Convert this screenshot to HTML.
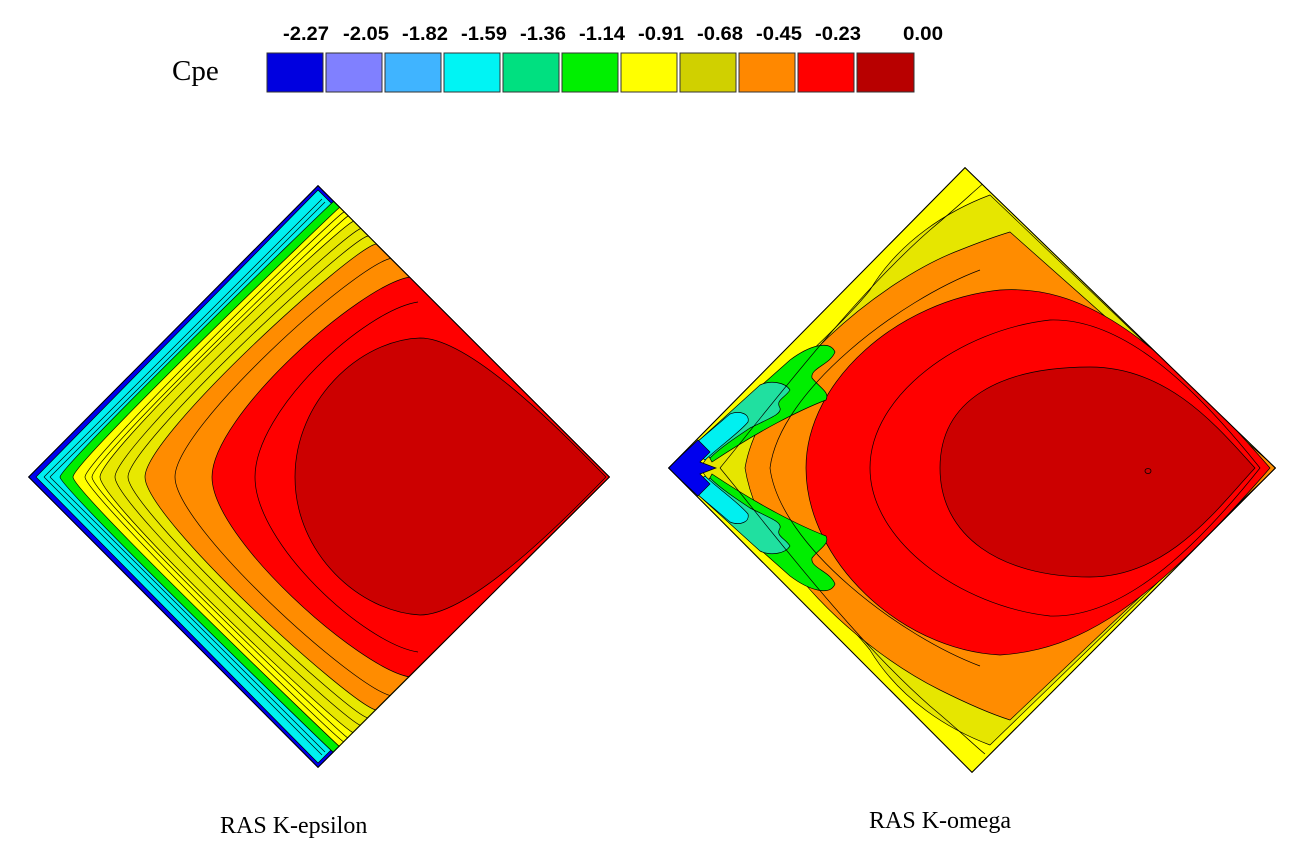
<!DOCTYPE html>
<html><head><meta charset="utf-8"><style>
html,body{margin:0;padding:0;background:#fff;width:1292px;height:868px;overflow:hidden}
svg{display:block}
</style></head><body>
<svg width="1292" height="868" viewBox="0 0 1292 868" xmlns="http://www.w3.org/2000/svg">
<defs>
<clipPath id="cl"><polygon points="318,185 28,477 318,768 610,477"/></clipPath>
<clipPath id="cr"><polygon points="965,167 668,468 972,773 1276,468"/></clipPath>
</defs>
<!-- legend -->
<text x="172" y="80" font-family="Liberation Serif, serif" font-size="29">Cpe</text>
<g stroke="#333" stroke-width="1">
<rect x="267" y="53" width="56" height="39" fill="#0000e0"/>
<rect x="326" y="53" width="56" height="39" fill="#8080ff"/>
<rect x="385" y="53" width="56" height="39" fill="#40b4ff"/>
<rect x="444" y="53" width="56" height="39" fill="#00f4f4"/>
<rect x="503" y="53" width="56" height="39" fill="#00e080"/>
<rect x="562" y="53" width="56" height="39" fill="#00f000"/>
<rect x="621" y="53" width="56" height="39" fill="#ffff00"/>
<rect x="680" y="53" width="56" height="39" fill="#d0d000"/>
<rect x="739" y="53" width="56" height="39" fill="#ff8800"/>
<rect x="798" y="53" width="56" height="39" fill="#ff0000"/>
<rect x="857" y="53" width="57" height="39" fill="#b80000"/>
</g>
<g font-family="Liberation Sans, sans-serif" font-weight="bold" font-size="19" text-anchor="middle">
<text x="306" y="40" textLength="46" lengthAdjust="spacingAndGlyphs">-2.27</text>
<text x="366" y="40" textLength="46" lengthAdjust="spacingAndGlyphs">-2.05</text>
<text x="425" y="40" textLength="46" lengthAdjust="spacingAndGlyphs">-1.82</text>
<text x="484" y="40" textLength="46" lengthAdjust="spacingAndGlyphs">-1.59</text>
<text x="543" y="40" textLength="46" lengthAdjust="spacingAndGlyphs">-1.36</text>
<text x="602" y="40" textLength="46" lengthAdjust="spacingAndGlyphs">-1.14</text>
<text x="661" y="40" textLength="46" lengthAdjust="spacingAndGlyphs">-0.91</text>
<text x="720" y="40" textLength="46" lengthAdjust="spacingAndGlyphs">-0.68</text>
<text x="779" y="40" textLength="46" lengthAdjust="spacingAndGlyphs">-0.45</text>
<text x="838" y="40" textLength="46" lengthAdjust="spacingAndGlyphs">-0.23</text>
<text x="923" y="40" textLength="40" lengthAdjust="spacingAndGlyphs">0.00</text>
</g>
<!-- left diamond -->
<g clip-path="url(#cl)" stroke="#000" stroke-width="0.7">
<polygon points="318,185 28,477 318,768 610,477" fill="#0000ee"/>
<polygon points="318,190 36,477 318,763 605,477" fill="#00f0f0"/>
<path d="M60,477 C60,466 328,206 334,201 L610,477 L334,753 C328,748 60,488 60,477Z" fill="#00ee00"/>
<path d="M73,477 C73,462 334,212 340,207 L610,477 L340,747 C334,742 73,492 73,477Z" fill="#ffff00"/>
<path d="M100,477 C100,452 340,225 354,221 L610,477 L354,733 C340,729 100,502 100,477Z" fill="#e8e800"/>
<path d="M145,477 C145,436 350,250 376,244 L610,477 L376,710 C350,704 145,518 145,477Z" fill="#ff8c00"/>
<path d="M212,477 C212,416 360,285 410,277 L610,477 L410,677 C360,669 212,538 212,477Z" fill="#ff0000"/>
<path d="M295,477 C295,400 360,340 420,338 C470,338 560,430 606,477 C560,524 470,615 420,615 C360,612 295,554 295,477Z" fill="#cc0000"/>
<g fill="none">
<path d="M44,477 L322,199 M44,477 L322,755"/>
<path d="M50,477 L325,202 M50,477 L325,752"/>
<path d="M85,477 C85,460 336,215 344,212 M85,477 C85,494 336,739 344,742"/>
<path d="M92,477 C92,458 340,220 348,216 M92,477 C92,496 340,734 348,738"/>
<path d="M115,477 C115,448 344,232 362,228 M115,477 C115,506 344,722 362,726"/>
<path d="M128,477 C128,445 348,240 368,236 M128,477 C128,509 348,714 368,718"/>
<path d="M175,477 C175,428 355,265 392,258 M175,477 C175,526 355,689 392,696"/>
<path d="M255,477 C255,410 365,310 418,302 M255,477 C255,544 365,644 418,652"/>
</g>
<polygon points="318,185 28,477 318,768 610,477" fill="none" stroke="#000" stroke-width="2"/>
</g>
<!-- right diamond -->
<g clip-path="url(#cr)" stroke="#000" stroke-width="0.7">
<polygon points="965,167 668,468 972,773 1276,468" fill="#ffff00"/>
<path d="M700,468 C730,420 830,340 870,290 C900,240 950,210 990,195 L1276,468 L990,745 C950,730 900,700 870,650 C830,600 730,516 700,468Z" fill="#e6e600"/>
<path d="M745,468 C760,380 880,280 960,250 C985,240 1000,235 1010,232 L1276,468 L1010,720 C985,712 960,700 940,690 C860,650 760,560 745,468Z" fill="#ff8c00"/>
<path d="M806,468 C806,380 900,300 1000,290 C1080,285 1150,330 1270,468 C1150,606 1080,650 1000,655 C900,650 806,560 806,468Z" fill="#ff0000"/>
<path d="M940,468 C940,400 1000,367 1090,367 C1170,367 1220,430 1255,468 C1220,505 1170,577 1090,577 C1000,577 940,536 940,468Z" fill="#cc0000"/>
<!-- fingers upper -->
<path d="M700,440 L790,360 C810,345 830,340 835,352 C830,365 810,368 812,378 C820,388 830,392 826,400 C800,410 760,430 712,462Z" fill="#00ee00"/>
<path d="M695,444 L760,385 C770,380 785,382 790,390 C785,398 775,400 780,408 C782,414 770,418 750,428 C735,438 720,448 710,458Z" fill="#20e0a0"/>
<path d="M690,448 L730,414 C740,410 750,414 748,422 C740,432 720,446 705,460Z" fill="#00f0f0"/>
<!-- fingers lower -->
<path d="M700,496 L790,576 C810,591 830,596 835,584 C830,571 810,568 812,558 C820,548 830,544 826,536 C800,526 760,506 712,474Z" fill="#00ee00"/>
<path d="M695,492 L760,551 C770,556 785,554 790,546 C785,538 775,536 780,528 C782,522 770,518 750,508 C735,498 720,488 710,478Z" fill="#20e0a0"/>
<path d="M690,488 L730,522 C740,526 750,522 748,514 C740,504 720,490 705,476Z" fill="#00f0f0"/>
<polygon points="668,468 698,440 710,452 700,462 716,468 700,474 710,484 698,496" fill="#0000ee"/>
<g fill="none">
<path d="M720,468 C760,420 850,300 930,230 C960,205 975,190 985,182 M720,468 C760,516 850,636 930,706 C960,731 975,746 985,754"/>
<path d="M770,468 C780,390 900,300 980,270 M770,468 C780,546 900,636 980,666"/>
<path d="M870,468 C870,395 960,330 1050,320 C1120,318 1190,380 1260,468 C1190,556 1120,618 1050,616 C960,606 870,541 870,468"/>
</g>
<polygon points="965,167 668,468 972,773 1276,468" fill="none" stroke="#000" stroke-width="2"/>
</g>
<ellipse cx="1148" cy="471" rx="3" ry="2.5" fill="none" stroke="#000" stroke-width="0.8"/>
<text x="220" y="833" font-family="Liberation Serif, serif" font-size="24">RAS K-epsilon</text>
<text x="869" y="828" font-family="Liberation Serif, serif" font-size="24">RAS K-omega</text>
</svg>
</body></html>
